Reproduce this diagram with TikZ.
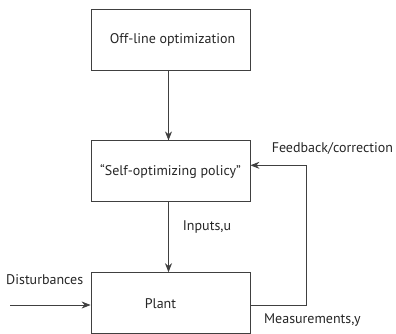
\documentclass[tikz,border=0pt]{standalone}
\usepackage{fontspec}
\setmainfont{PT Sans}
\usetikzlibrary{arrows.meta, positioning}

\begin{document}
\begin{tikzpicture}[
    x=1pt, y=1pt,
    node distance=70pt,
    block/.style={
        draw=black!75,
        line width=0.8pt,
        minimum width=159pt,
        minimum height=61pt,
        inner sep=0pt,
        font=\fontsize{14}{16}\selectfont,
        text=black!85
    },
    arrow/.style={
        ->,
        >={Stealth[length=9pt, width=7pt]},
        line width=0.8pt,
        draw=black!75
    },
    lbl/.style={
        font=\fontsize{14}{16}\selectfont,
        text=black!85,
        inner sep=0pt
    }
]
\useasboundingbox (0,0) rectangle (396,-333);

% Nodes
\node (offline) [block] at (170.5,-39.5) {\hspace*{4pt}Off-line optimization};
\node (policy) [block, below=of offline] {``Self-optimizing policy''};
\node (plant) [block, below=of policy, label={[lbl, xshift=-10pt, yshift=-1pt]center:Plant}] {};
\coordinate (dist) at (10,-305);
\node (distlabel) [lbl, anchor=west] at (6,-280) {Disturbances};

% Paths
\draw [arrow] ([xshift=-2pt]offline.south) -- ([xshift=-2pt]policy.north);
\draw [arrow] ([xshift=-2pt]policy.south) -- node[lbl, right=14pt, pos=0.35] {Inputs,u} ([xshift=-2pt]plant.north);
\draw [arrow] (dist) -- (dist -| plant.west);
\draw [arrow] ([yshift=-2pt]plant.east) -- node[lbl, pos=0, xshift=62pt, yshift=-15pt] {Measurements,y} ++(56,0)
    |- node[lbl, pos=0.5, xshift=26pt, yshift=17pt] {Feedback/correction} ([yshift=6pt]policy.east);

\end{tikzpicture}
\end{document}
